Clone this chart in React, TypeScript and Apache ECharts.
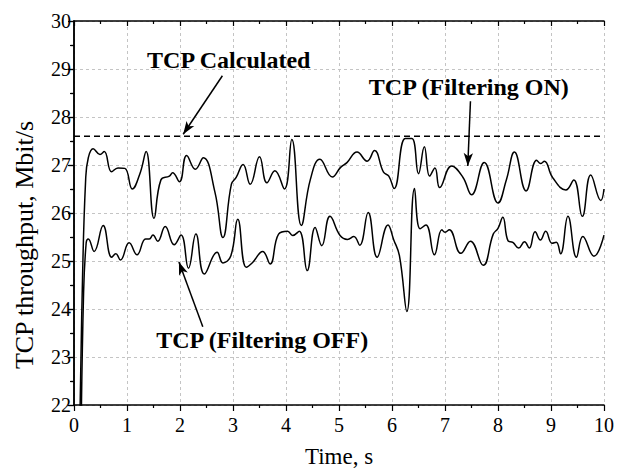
import React, { useEffect, useRef } from "react";
import * as echarts from "echarts";

// Time (s) and throughput (Mbit/s) — TCP with filtering ON
const T_ON = [0.1, 0.16, 0.22, 0.27, 0.36, 0.49, 0.57, 0.71, 0.83, 0.96, 1.1, 1.25, 1.36, 1.51, 1.64, 1.8, 1.86, 1.99, 2.125, 2.29, 2.44, 2.66, 2.81, 2.97, 3.06, 3.19, 3.325, 3.5, 3.64, 3.79, 3.97, 4.11, 4.29, 4.46, 4.64, 4.875, 5.03, 5.15, 5.34, 5.53, 5.67, 5.84, 5.94, 6.04, 6.25, 6.375, 6.5, 6.61, 6.71, 6.81, 6.9, 7.125, 7.34, 7.5, 7.74, 8.0, 8.16, 8.31, 8.53, 8.73, 8.8, 8.875, 9.03, 9.28, 9.43, 9.59, 9.75, 9.94, 10.0];
const V_ON = [21.0, 24.6, 26.7, 27.15, 27.34, 27.22, 27.28, 26.86, 26.94, 26.93, 26.5, 26.84, 27.28, 25.89, 26.69, 26.77, 26.84, 26.65, 27.2, 26.91, 27.15, 26.43, 25.49, 26.6, 26.74, 27.01, 26.6, 27.17, 26.63, 26.88, 26.5, 27.53, 25.74, 26.7, 27.12, 26.75, 26.95, 27.05, 27.27, 27.08, 27.3, 26.85, 26.77, 26.51, 27.55, 27.55, 26.82, 27.38, 26.77, 26.94, 26.53, 26.98, 26.74, 26.38, 27.05, 26.21, 26.7, 27.27, 26.46, 27.1, 27.03, 27.08, 26.74, 26.48, 26.69, 25.93, 26.79, 26.26, 26.5];

// TCP with filtering OFF
const T_OFF = [0.13, 0.18, 0.23, 0.27, 0.38, 0.55, 0.71, 0.79, 0.875, 1.04, 1.19, 1.35, 1.42, 1.49, 1.58, 1.72, 1.89, 2.02, 2.16, 2.3, 2.46, 2.7, 2.81, 2.96, 3.09, 3.25, 3.37, 3.56, 3.7, 3.86, 4.03, 4.125, 4.25, 4.4, 4.55, 4.675, 4.83, 5.02, 5.16, 5.28, 5.39, 5.55, 5.72, 5.925, 6.03, 6.14, 6.28, 6.425, 6.53, 6.64, 6.8, 6.94, 7.0, 7.08, 7.3, 7.48, 7.72, 7.91, 8.0, 8.09, 8.19, 8.28, 8.39, 8.5, 8.59, 8.7, 8.8, 8.9, 9.02, 9.1, 9.18, 9.32, 9.48, 9.6, 9.81, 10.0];
const V_OFF = [21.0, 24.3, 25.38, 25.46, 25.2, 25.74, 25.08, 25.15, 25.02, 25.38, 25.13, 25.46, 25.46, 25.54, 25.41, 25.72, 25.34, 25.54, 24.85, 25.56, 24.73, 25.18, 24.96, 25.11, 25.87, 24.87, 24.97, 25.2, 24.94, 25.56, 25.62, 25.53, 25.62, 24.8, 25.7, 25.32, 25.93, 25.53, 25.45, 25.51, 25.33, 26.01, 25.08, 25.75, 25.45, 25.11, 23.95, 26.51, 25.67, 25.75, 25.13, 25.65, 25.6, 25.65, 25.16, 25.41, 24.91, 25.56, 25.68, 25.91, 25.42, 25.39, 25.27, 25.4, 25.27, 25.61, 25.44, 25.62, 25.37, 25.39, 25.15, 25.93, 25.08, 25.51, 25.1, 25.54];

// Calculated TCP throughput
const CALC_T = [0, 10];
const CALC_V = 27.6;

// Axis settings
const X_MIN = 0, X_MAX = 10, X_STEP = 1;
const Y_MIN = 22, Y_MAX = 30, Y_STEP = 1;
const X_NAME = "Time, s";
const Y_NAME = "TCP throughput, Mbit/s";

// Annotations (data coordinates)
const LABELS = ["TCP Calculated", "TCP (Filtering ON)", "TCP (Filtering OFF)"];
const LABEL_AT = [[2.92, 29.19], [7.45, 28.63], [3.55, 23.35]];
const ARROW_FROM = [[2.8, 28.86], [7.48, 28.33], [2.43, 23.63]];
const ARROW_TO = [[2.06, 27.64], [7.43, 26.98], [1.98, 24.98]];

const FONT = "'Liberation Serif', 'Times New Roman', serif";

export default function App() {
  const ref = useRef<HTMLDivElement>(null);
  useEffect(() => {
    if (!ref.current) return;
    const chart = echarts.init(ref.current, undefined, { renderer: "svg" });
    const on = T_ON.map((t, i) => [t, V_ON[i]]);
    const off = T_OFF.map((t, i) => [t, V_OFF[i]]);
    const calc = CALC_T.map((t) => [t, CALC_V]);
    const axisLine = { show: true, lineStyle: { color: "#000", width: 1.5 } };
    const option: any = {
      animation: false,
      backgroundColor: "#fff",
      textStyle: { fontFamily: FONT },
      grid: { left: 74, right: 10, top: 21, bottom: 66, containLabel: false },
      xAxis: [
        {
          type: "value", min: X_MIN, max: X_MAX, interval: X_STEP, position: "bottom",
          name: X_NAME, nameLocation: "middle", nameGap: 40,
          nameTextStyle: { fontFamily: FONT, fontSize: 23, color: "#000" },
          axisLine, axisTick: { show: true, inside: false, length: 6, lineStyle: { color: "#000", width: 1.2 } },
          minorTick: { show: true, splitNumber: 2, length: 3, lineStyle: { color: "#000", width: 1.2 } },
          axisLabel: { fontFamily: FONT, fontSize: 20, color: "#000", margin: 10 },
          splitLine: { show: true, lineStyle: { color: "#c4c4c4", type: [3, 3], width: 1 } },
        },
        {
          type: "value", min: X_MIN, max: X_MAX, interval: X_STEP, position: "top",
          axisLine, axisTick: { show: true, inside: true, length: 5, lineStyle: { color: "#000", width: 1.2 } },
          minorTick: { show: true, splitNumber: 2, length: 3, lineStyle: { color: "#000", width: 1.2 } },
          axisLabel: { show: false }, splitLine: { show: false },
        },
      ],
      yAxis: [
        {
          type: "value", min: Y_MIN, max: Y_MAX, interval: Y_STEP, position: "left",
          axisLine, axisTick: { show: true, inside: false, length: 6, lineStyle: { color: "#000", width: 1.2 } },
          minorTick: { show: true, splitNumber: 2, length: 4, lineStyle: { color: "#000", width: 1.2 } },
          axisLabel: { fontFamily: FONT, fontSize: 20, color: "#000", margin: 3 },
          splitLine: { show: true, lineStyle: { color: "#c4c4c4", type: [3, 3], width: 1 } },
        },
        {
          type: "value", min: Y_MIN, max: Y_MAX, interval: Y_STEP, position: "right",
          axisLine, axisTick: { show: true, inside: true, length: 5, lineStyle: { color: "#000", width: 1.2 } },
          minorTick: { show: true, splitNumber: 2, length: 3, lineStyle: { color: "#000", width: 1.2 } },
          axisLabel: { show: false }, splitLine: { show: false },
        },
      ],
      series: [
        {
          type: "line", data: on, smooth: 0.45, showSymbol: false, clip: true,
          lineStyle: { color: "#000", width: 1.5 },
        },
        {
          type: "line", data: off, smooth: 0.45, showSymbol: false, clip: true,
          lineStyle: { color: "#000", width: 1.5 },
        },
        {
          type: "line", data: calc, showSymbol: false,
          lineStyle: { color: "#000", width: 1.5, type: [6, 4] },
          markLine: {
            silent: true, animation: false,
            symbolSize: [7, 13],
            label: { show: false },
            lineStyle: { color: "#000", width: 1.5, type: "solid" },
            data: ARROW_FROM.map((f, i) => [
              { coord: f, symbol: "none" },
              { coord: ARROW_TO[i], symbol: "arrow" },
            ]),
          },
        },
      ],
    };
    chart.setOption(option);
    const graphic: any[] = LABELS.map((s, i) => {
      const p = chart.convertToPixel({ seriesIndex: 0 }, LABEL_AT[i]) as number[];
      return {
        type: "text", x: p[0], y: p[1],
        style: { text: s, font: `bold 24px ${FONT}`, fill: "#000", align: "center", verticalAlign: "middle" },
      };
    });
    graphic.push({
      type: "text", x: 24, y: 245, rotation: Math.PI / 2,
      style: { text: Y_NAME, font: `26px ${FONT}`, fill: "#000", align: "center", verticalAlign: "middle" },
    });
    chart.setOption({ graphic });
    return () => chart.dispose();
  }, []);
  return <div ref={ref} style={{ position: "fixed", left: 0, top: 0, width: 617, height: 473 }} />;
}
